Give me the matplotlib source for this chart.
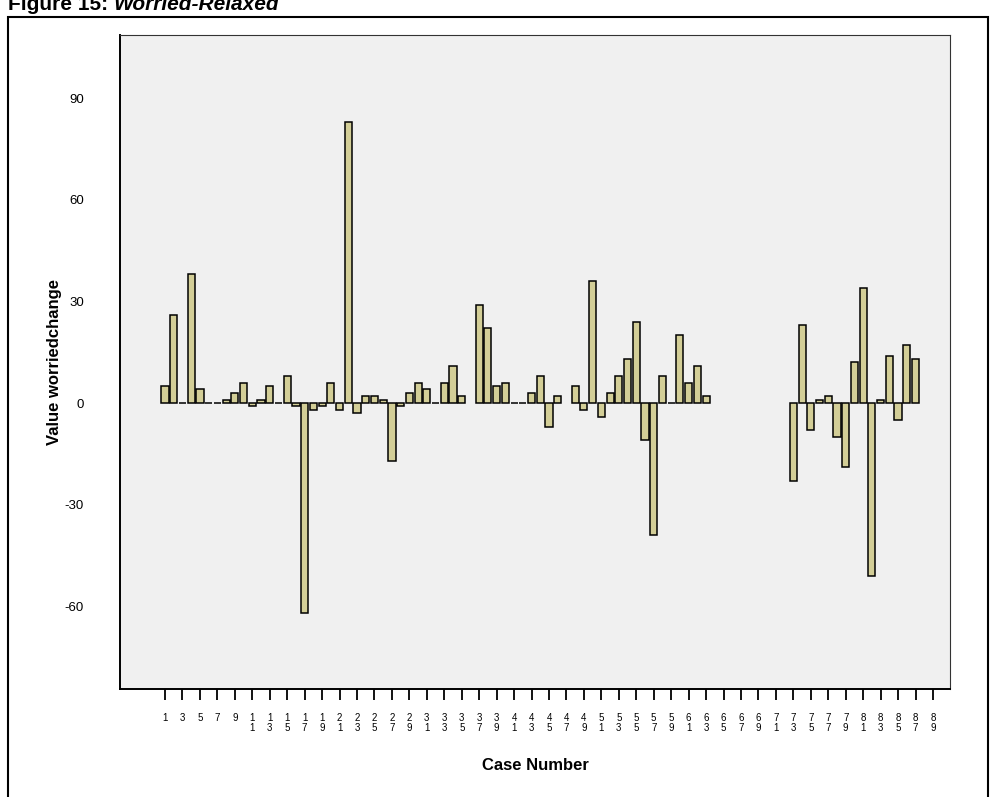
import numpy as np
import matplotlib
matplotlib.use("Agg")
import matplotlib.pyplot as plt
from matplotlib.patches import Rectangle

plt.rcParams['font.family'] = ['Liberation Sans', 'DejaVu Sans']

# --- data: case number -> worriedchange (None = missing case) ---
cases = list(range(1, 90))
worriedchange = [
    5, 26, 0, 38, 4, 0, 0, 1, 3, 6,
    -1, 1, 5, 0, 8, -1, -62, -2, -1, 6,
    -2, 83, -3, 2, 2, 1, -17, -1, 3, 6,
    4, 0, 6, 11, 2, None, 29, 22, 5, 6,
    0, 0, 3, 8, -7, 2, None, 5, -2, 36,
    -4, 3, 8, 13, 24, -11, -39, 8, 0, 20,
    6, 11, 2, None, None, None, None, None, None, None,
    None, None, -23, 23, -8, 1, 2, -10, -19, 12,
    34, -51, 1, 14, -5, 17, 13, None, None,
]
x_ticks = list(range(1, 90, 2))
x_ticklabels = ["\n".join(str(n)) for n in x_ticks]
y_ticks = [-60, -30, 0, 30, 60, 90]

W, H = 990, 797
fig = plt.figure(figsize=(W / 100, H / 100), dpi=100)
fig.patch.set_facecolor("white")

ax = fig.add_axes([120 / W, 1 - 689 / H, 830 / W, 654 / H])
ax.set_facecolor("#f0f0f0")

xs = [c for c, v in zip(cases, worriedchange) if v is not None]
vs = [v for v in worriedchange if v is not None]
ax.bar(xs, vs, width=0.82, color="#d3ce97", edgecolor="black", linewidth=1.1)

ax.set_xlim(-4.16, 90.95)
ax.set_ylim(-84.4, 108.6)

ax.set_xticks(x_ticks)
ax.set_xticklabels(x_ticklabels, fontsize=7, linespacing=1.0)
ax.tick_params(axis="x", direction="out", length=8, width=1.3, pad=9)
ax.set_yticks(y_ticks)
ax.set_yticklabels([str(t) for t in y_ticks], fontsize=9.5)
ax.tick_params(axis="y", length=0, pad=26)

for side in ["top", "right"]:
    ax.spines[side].set_linewidth(0.8)
    ax.spines[side].set_color("#333333")
for side in ["left", "bottom"]:
    ax.spines[side].set_linewidth(1.4)
    ax.spines[side].set_color("black")

ax.set_xlabel("Case Number", fontsize=12, fontweight="bold", labelpad=18)
ax.set_ylabel("Value worriedchange", fontsize=12, fontweight="bold", labelpad=2)

# outer frame of the exported figure
fig.patches.append(Rectangle((8 / W, -0.05), 980 / W, 1.05 - 17 / H,
                             transform=fig.transFigure, fill=False,
                             edgecolor="black", linewidth=1.5))

# title, cut off at the top edge like the source
t1 = fig.text(8 / W, 1 - 10 / H, "Figure 15: ", fontsize=15, fontweight="bold",
              va="baseline", ha="left")
fig.canvas.draw()
bb = t1.get_window_extent(renderer=fig.canvas.get_renderer())
fig.text(bb.x1 / W, 1 - 10 / H, "Worried-Relaxed", fontsize=15,
         fontweight="bold", fontstyle="italic", va="baseline", ha="left")

fig.savefig("out.png", dpi=100)
